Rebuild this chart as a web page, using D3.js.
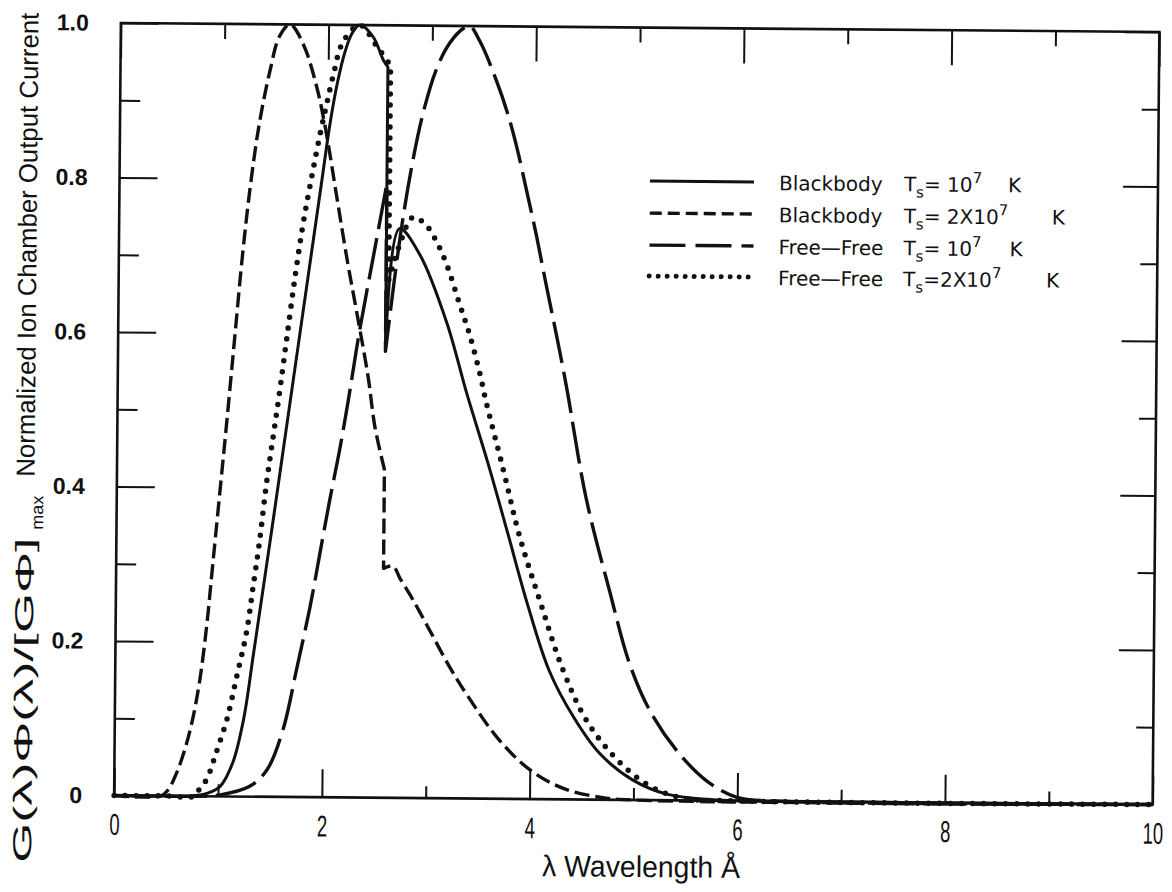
<!DOCTYPE html>
<html><head><meta charset="utf-8">
<script src="https://cdn.jsdelivr.net/npm/d3@7"></script>
<style>
body{margin:0;background:#fff;}
svg{display:block;background:#fff;}
</style></head><body>
<svg id="chart" width="1172" height="892"></svg>
<script>
// ---------- data ----------
const xMajorTicks = [0, 2, 4, 6, 8, 10];
const xMinorTicks = [1, 3, 5, 7, 9];
const yMajorTicks = [0, 0.2, 0.4, 0.6, 0.8, 1.0];
const yMinorTicks = [0.1, 0.3, 0.5, 0.7, 0.9];
const xTickLabels = ["0", "2", "4", "6", "8", "10"];
const yTickLabels = ["0", "0.2", "0.4", "0.6", "0.8", "1.0"];

// Blackbody Ts = 10^7 K (solid)  [wavelength Å, normalized current]
const blackbody1e7 = [[0,0],[0.5,0],[0.73,0],[0.9,0.004],[1.02,0.013],[1.14,0.044],[1.24,0.10],[1.33,0.185],[1.42,0.272],[1.51,0.36],[1.60,0.45],[1.69,0.54],[1.78,0.63],[1.87,0.72],[1.95,0.80],[2.02,0.87],[2.09,0.925],[2.16,0.965],[2.23,0.99],[2.30,1.0],[2.43,0.985],[2.53,0.955],[2.575,0.946],
  [2.575,0.578],[2.70,0.737],[2.90,0.703],[3.165,0.615],[3.36,0.525],[3.57,0.435],[3.77,0.343],[3.96,0.254],[4.18,0.166],[4.42,0.106],[4.67,0.06],[4.99,0.026],[5.32,0.008],[5.8,0.001],[6.2,0],[10,0]];

// Blackbody Ts = 2x10^7 K (short dashes)
const blackbody2e7 = [[0,0],[0.45,0],[0.52,0.008],[0.60,0.03],[0.68,0.062],[0.75,0.10],[0.82,0.155],[0.88,0.225],[0.93,0.30],[0.99,0.39],[1.05,0.48],[1.12,0.59],[1.19,0.70],[1.26,0.79],[1.34,0.87],[1.44,0.94],[1.53,0.985],[1.63,1.0],[1.76,0.974],[1.89,0.92],[1.98,0.865],[2.09,0.78],[2.20,0.695],[2.30,0.625],[2.41,0.545],[2.48,0.48],[2.575,0.425],
  [2.575,0.297],[2.665,0.30],[2.735,0.284],[2.855,0.258],[3.03,0.216],[3.22,0.17],[3.385,0.135],[3.71,0.075],[4.03,0.035],[4.35,0.013],[4.69,0.003],[4.99,0],[10,0]];

// Free-Free Ts = 10^7 K (long dashes)
const freefree1e7 = [[0,0],[0.8,0],[1.02,0.002],[1.30,0.013],[1.47,0.035],[1.62,0.087],[1.75,0.168],[1.87,0.246],[1.96,0.315],[2.05,0.384],[2.145,0.452],[2.22,0.513],[2.325,0.605],[2.45,0.70],[2.575,0.795],
  [2.575,0.578],[2.71,0.729],[2.82,0.823],[2.92,0.888],[3.04,0.943],[3.17,0.978],[3.30,0.997],[3.36,1.0],[3.46,0.98],[3.62,0.93],[3.73,0.888],[3.82,0.845],[3.92,0.788],[4.02,0.729],[4.12,0.664],[4.225,0.598],[4.32,0.535],[4.52,0.39],[4.76,0.267],[4.95,0.177],[5.15,0.116],[5.41,0.065],[5.70,0.026],[5.99,0.005],[6.4,0],[10,0]];

// Free-Free Ts = 2x10^7 K (dots)
const freefree2e7 = [[0,0],[0.5,0],[0.77,0],[0.82,0.009],[0.89,0.022],[0.98,0.057],[1.08,0.10],[1.17,0.155],[1.26,0.212],[1.32,0.271],[1.38,0.332],[1.44,0.405],[1.50,0.465],[1.56,0.525],[1.625,0.595],[1.70,0.675],[1.775,0.745],[1.86,0.81],[1.93,0.86],[1.985,0.895],[2.05,0.935],[2.14,0.978],[2.30,1.0],[2.46,0.974],[2.60,0.948],
  [2.60,0.67],[2.70,0.715],[2.83,0.752],[2.96,0.741],[3.06,0.72],[3.16,0.69],[3.28,0.642],[3.385,0.60],[3.49,0.548],[3.55,0.513],[3.72,0.426],[3.88,0.341],[4.09,0.254],[4.31,0.168],[4.54,0.103],[4.84,0.052],[5.16,0.018],[5.48,0.003],[6.0,0],[10,0]];

const legendNames = ["Blackbody", "Blackbody", "Free\u2014Free", "Free\u2014Free"];
const legendCoeff = ["= 10", "= 2X10", "= 10", "=2X10"];
const legendExp = ["7", "7", "7", "7"];
const legendUnit = ["K", "K", "K", "K"];
const xAxisTitle = "\u03bb Wavelength \u00c5";
const yAxisTitleA = "G(\u03bb)\u03a6(\u03bb)/[G\u03a6]";
const yAxisTitleSub = "max";
const yAxisTitleB = "Normalized Ion Chamber Output Current";

// ---------- drawing ----------
const ink = "#111";
const sans = "'Liberation Sans',Arial,sans-serif";
const L = 117.5, R = 1156, T = 27.5, B = 800;
const x = d3.scaleLinear().domain([0, 10]).range([L, R]);
const y = d3.scaleLinear().domain([0, 1]).range([B, T]);

const svg = d3.select("#chart");
const g = svg.append("g").attr("transform", "rotate(0.5,637,413)");

// frame
g.append("rect").attr("x", L).attr("y", T).attr("width", R - L).attr("height", B - T)
  .attr("fill", "none").attr("stroke", ink).attr("stroke-width", 2.6);

function styleAxis(sel) {
  sel.select(".domain").remove();
  sel.selectAll(".tick line").attr("stroke", ink).attr("stroke-width", 2);
}

// bottom
g.append("g").attr("transform", `translate(0,${B})`)
  .call(d3.axisBottom(x).tickValues(xMajorTicks).tickSize(-28).tickPadding(20).tickFormat((d, i) => xTickLabels[i]))
  .call(styleAxis)
  .call(s => s.selectAll("text").attr("font-family", sans).attr("font-size", 30).attr("fill", ink)
    .attr("dy", "0.71em").attr("y", 18).attr("transform", "scale(0.62,1)"));
g.append("g").attr("transform", `translate(0,${B})`)
  .call(d3.axisBottom(x).tickValues(xMinorTicks).tickSize(-12).tickFormat(""))
  .call(styleAxis);
// top
g.append("g").attr("transform", `translate(0,${T})`)
  .call(d3.axisTop(x).tickValues(xMajorTicks).tickSize(-35).tickFormat(""))
  .call(styleAxis);
g.append("g").attr("transform", `translate(0,${T})`)
  .call(d3.axisTop(x).tickValues(xMinorTicks).tickSize(-15).tickFormat(""))
  .call(styleAxis);
// left
g.append("g").attr("transform", `translate(${L},0)`)
  .call(d3.axisLeft(y).tickValues(yMajorTicks).tickSize(-38).tickPadding(32).tickFormat((d, i) => yTickLabels[i]))
  .call(styleAxis)
  .call(s => s.selectAll("text").attr("font-family", sans).attr("font-weight", "bold").attr("font-size", 23).attr("fill", ink));
g.append("g").attr("transform", `translate(${L},0)`)
  .call(d3.axisLeft(y).tickValues(yMinorTicks).tickSize(-20).tickFormat(""))
  .call(styleAxis);
// right
g.append("g").attr("transform", `translate(${R},0)`)
  .call(d3.axisRight(y).tickValues(yMajorTicks).tickSize(-35).tickFormat(""))
  .call(styleAxis);
g.append("g").attr("transform", `translate(${R},0)`)
  .call(d3.axisRight(y).tickValues(yMinorTicks).tickSize(-17).tickFormat(""))
  .call(styleAxis);

// curves
const line = d3.line().x(d => x(d[0])).y(d => y(d[1])).curve(d3.curveCatmullRom.alpha(0.5));
function edgePath(data) {
  const pieces = []; let cur = [data[0]];
  for (let i = 1; i < data.length; i++) {
    if (data[i][0] === data[i - 1][0]) { pieces.push(cur); cur = [data[i]]; }
    else cur.push(data[i]);
  }
  pieces.push(cur);
  return pieces.map((p, i) => { const s = line(p); return i === 0 ? s : "L" + s.slice(1); }).join("");
}
const styles = [
  { dash: null, width: 3, cap: "butt" },
  { dash: "15,6", width: 3.4, cap: "butt" },
  { dash: "42,9", width: 3.4, cap: "butt" },
  { dash: "0,11", width: 5.5, cap: "round" }
];
const allSeries = [blackbody1e7, blackbody2e7, freefree1e7, freefree2e7];
allSeries.forEach((data, i) => {
  g.append("path").attr("d", edgePath(data)).attr("fill", "none").attr("stroke", ink)
    .attr("stroke-width", styles[i].width).attr("stroke-dasharray", styles[i].dash)
    .attr("stroke-linecap", styles[i].cap).attr("stroke-linejoin", "round");
});

// legend
const legendY = [181, 213, 245, 276];
const legendSample = [
  { dash: null, width: 3, cap: "butt" },
  { dash: "12,6", width: 3.4, cap: "butt" },
  { dash: "36,10", width: 3.4, cap: "butt" },
  { dash: "0,9", width: 5, cap: "round" }
];
const unitX = [1006, 1050, 1008, 1045];
legendNames.forEach((name, i) => {
  const ly = legendY[i];
  g.append("line").attr("x1", 648).attr("x2", 752).attr("y1", ly).attr("y2", ly)
    .attr("stroke", ink).attr("stroke-width", legendSample[i].width)
    .attr("stroke-dasharray", legendSample[i].dash).attr("stroke-linecap", legendSample[i].cap);
  g.append("text").attr("x", 777).attr("y", ly + 8)
    .attr("font-family", "'DejaVu Sans',sans-serif").attr("font-size", 20).attr("fill", ink)
    .text(name);
  const t2 = g.append("text").attr("x", 902).attr("y", ly + 8)
    .attr("font-family", "'DejaVu Sans',sans-serif").attr("font-size", 20).attr("fill", ink);
  t2.append("tspan").text("T");
  t2.append("tspan").attr("font-size", 15).attr("dy", 6).text("s");
  t2.append("tspan").attr("dy", -6).text(legendCoeff[i]);
  t2.append("tspan").attr("font-size", 15).attr("dy", -9).text(legendExp[i]);
  g.append("text").attr("x", unitX[i]).attr("y", ly + 8)
    .attr("font-family", "'DejaVu Sans',sans-serif").attr("font-size", 20).attr("fill", ink)
    .text(legendUnit[i]);
});

// axis titles
g.append("text").attr("x", 645).attr("y", 877).attr("text-anchor", "middle")
  .attr("font-family", sans).attr("font-size", 30).attr("fill", ink)
  .attr("textLength", 198).attr("lengthAdjust", "spacingAndGlyphs").text(xAxisTitle);

function vText(txt, bx, by, len, size) {
  g.append("text").attr("transform", `translate(${bx},${by}) rotate(-90)`)
    .attr("font-family", sans).attr("font-size", size).attr("fill", ink)
    .attr("textLength", len).attr("lengthAdjust", "spacingAndGlyphs").text(txt);
}
vText(yAxisTitleA, 35, 868, 325, 26);
vText(yAxisTitleSub, 44, 535, 34, 17);
vText(yAxisTitleB, 35, 482, 464, 26);
</script>
</body></html>
